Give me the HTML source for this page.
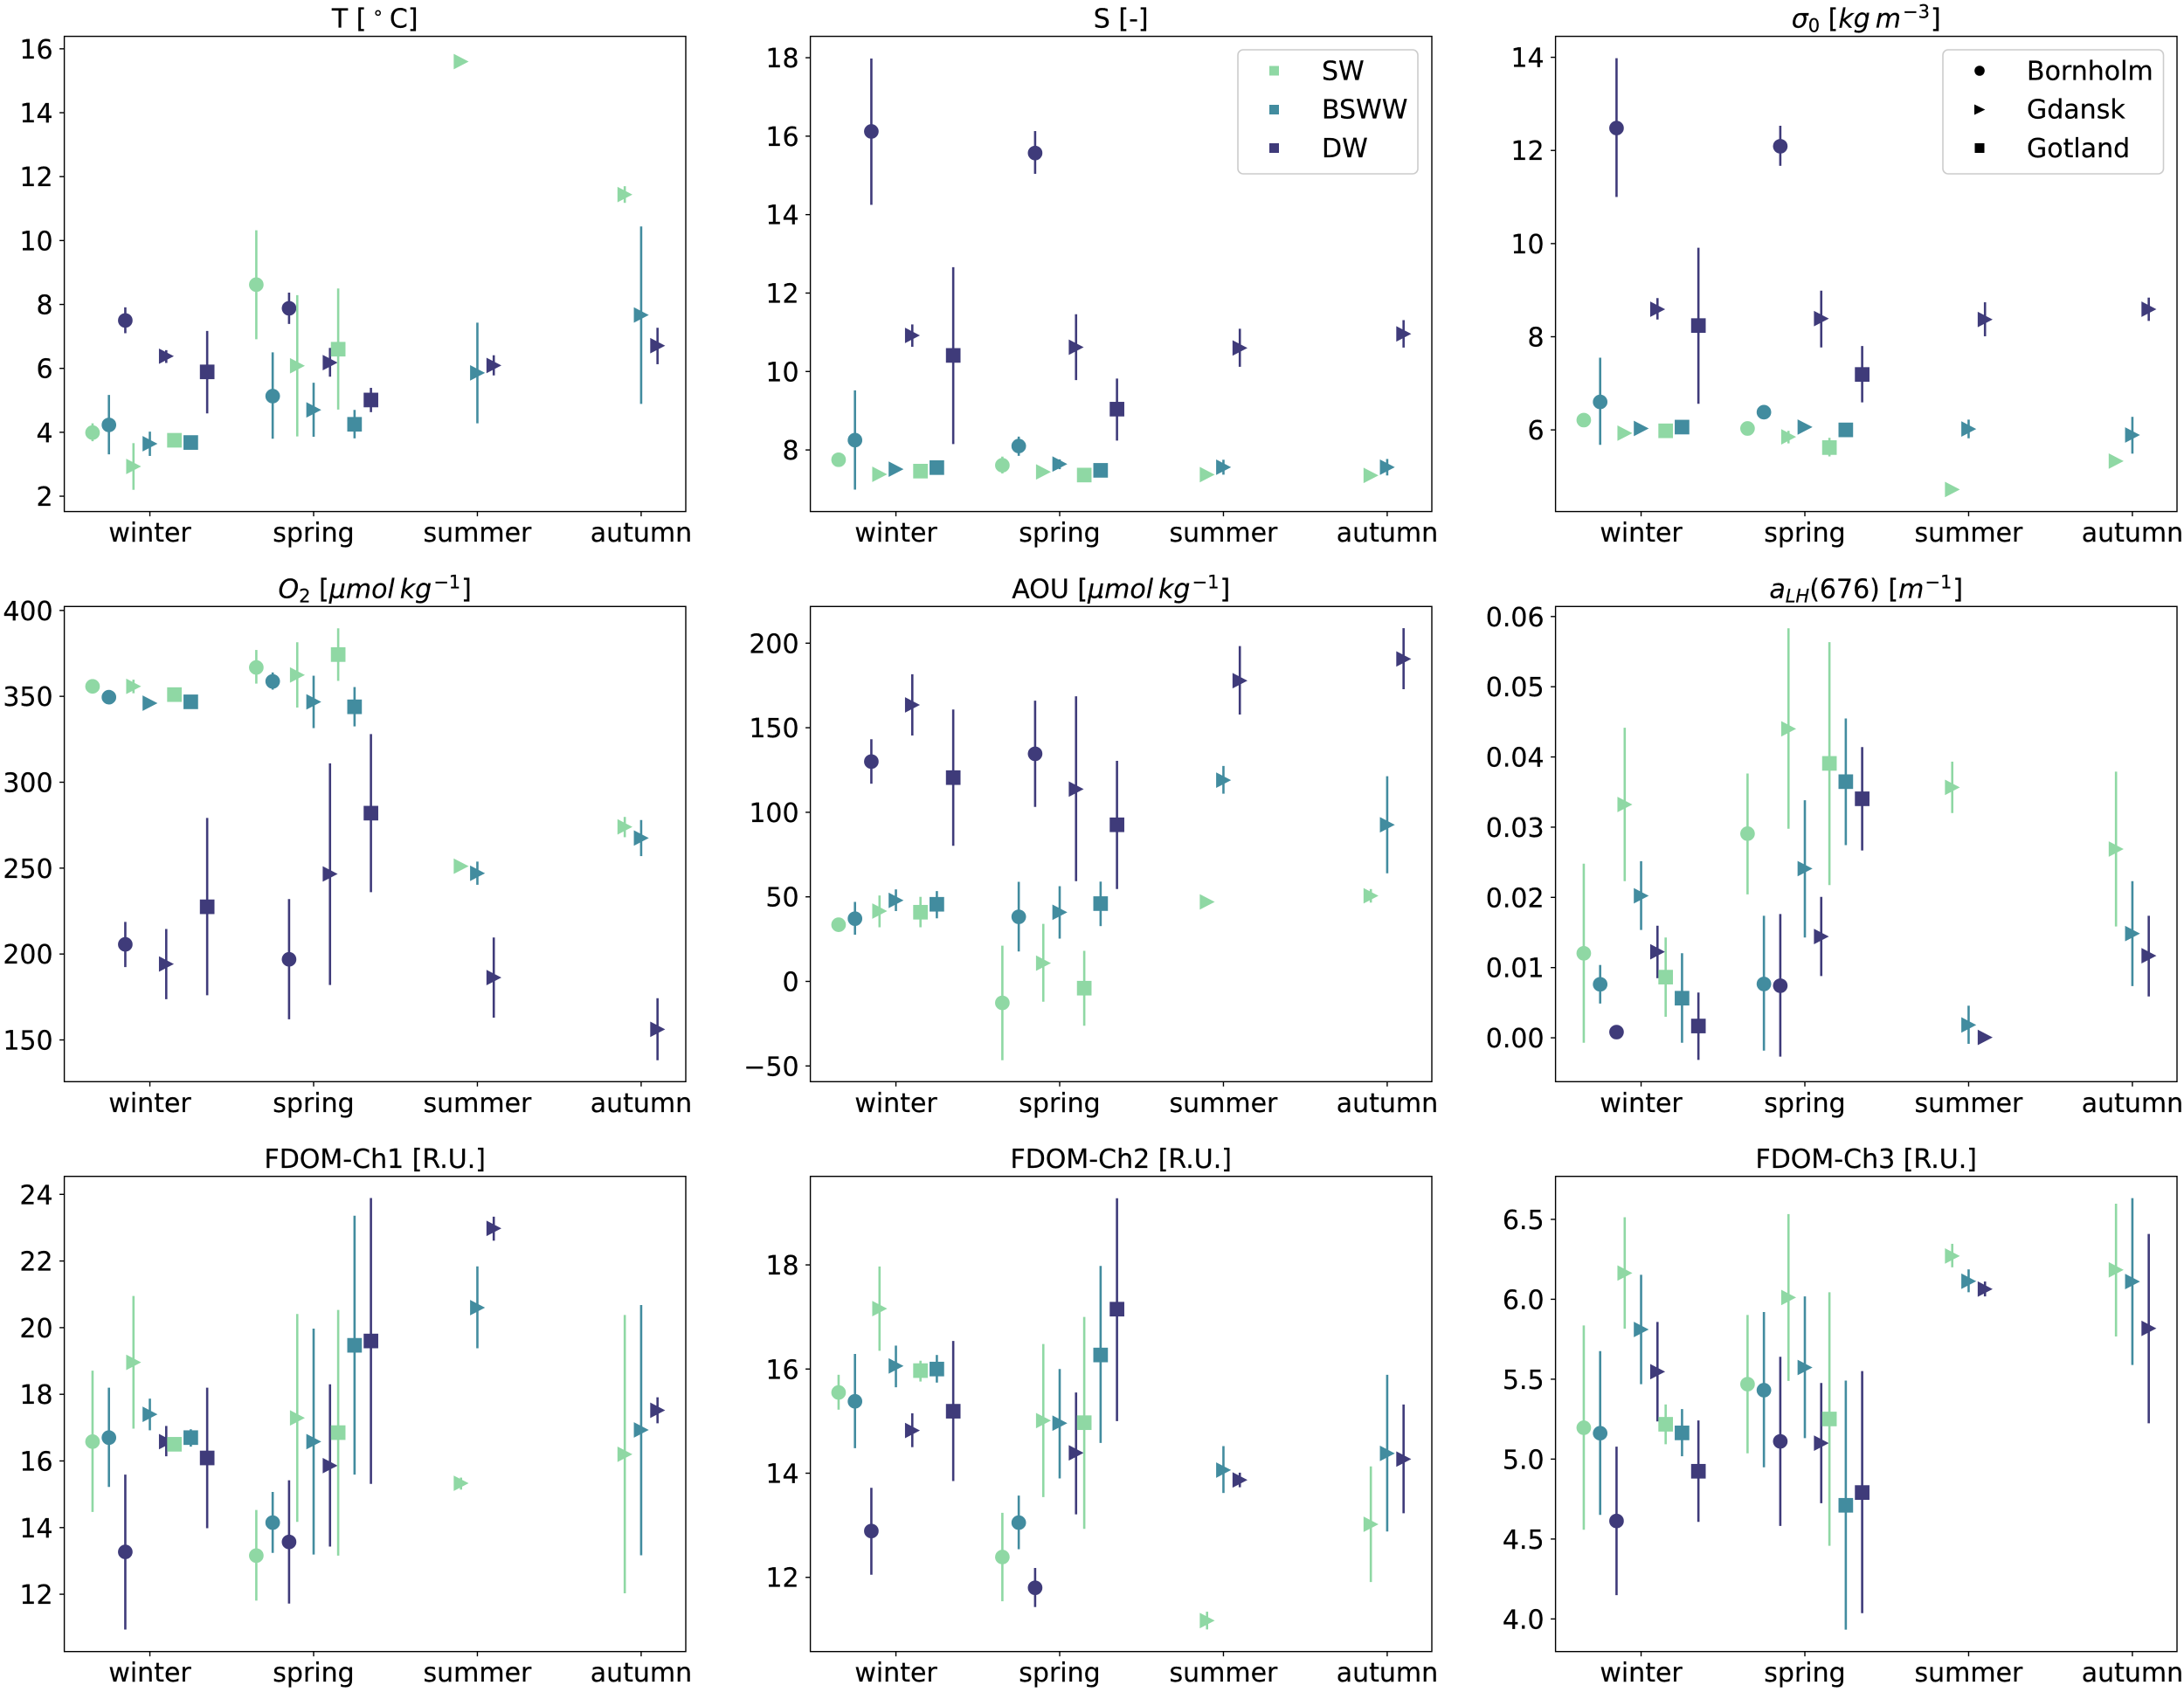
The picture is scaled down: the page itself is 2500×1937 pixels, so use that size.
<!DOCTYPE html>
<html lang="en">
<head>
<meta charset="utf-8">
<title>Seasonal water mass properties by location</title>
<style>
html,body{margin:0;padding:0;background:#fff;}
svg{display:block;}
text{font-family:"DejaVu Sans","Liberation Sans",sans-serif;fill:#000;stroke:#000;stroke-width:0.2px;white-space:pre;}
.title{font-size:30px;text-anchor:middle;}
.tick{font-size:30px;}
.legend-text{font-size:30px;}
.it{font-style:italic;}
</style>
</head>
<body>
<svg id="fig" xmlns="http://www.w3.org/2000/svg" width="2500" height="1937" viewBox="0 0 2500 1937">
  <rect x="0" y="0" width="2500" height="1937" fill="#fff"/>
  <g id="panels"></g>

  <text class="title" x="429.2" y="31.6">T [<tspan dy="-10" font-size="21"> ∘ </tspan><tspan dy="10">C]</tspan></text>
  <text class="title" x="1283.2" y="31.6">S [-]</text>
  <text class="title" x="2136.2" y="31.6"><tspan class="it">σ</tspan><tspan dy="5" font-size="21">0</tspan><tspan dy="-5"> [</tspan><tspan class="it">kg&#8201;m</tspan><tspan dy="-11" dx="2" font-size="21">−3</tspan><tspan dy="11" dx="1">]</tspan></text>

  <text class="title" x="429.2" y="684.3"><tspan class="it">O</tspan><tspan dy="5" font-size="21">2</tspan><tspan dy="-5"> [</tspan><tspan class="it">μmol&#8201;kg</tspan><tspan dy="-11" dx="2" font-size="21">−1</tspan><tspan dy="11" dx="1">]</tspan></text>
  <text class="title" x="1283.2" y="684.3">AOU [<tspan class="it">μmol&#8201;kg</tspan><tspan dy="-11" dx="2" font-size="21">−1</tspan><tspan dy="11" dx="1">]</tspan></text>
  <text class="title" x="2136.2" y="684.3"><tspan class="it">a</tspan><tspan dy="5" font-size="21" class="it">LH</tspan><tspan dy="-5">(676) [</tspan><tspan class="it">m</tspan><tspan dy="-11" dx="1" font-size="21">−1</tspan><tspan dy="11" dx="1">]</tspan></text>

  <text class="title" x="429.2" y="1337">FDOM-Ch1 [R.U.]</text>
  <text class="title" x="1283.2" y="1337">FDOM-Ch2 [R.U.]</text>
  <text class="title" x="2136.2" y="1337">FDOM-Ch3 [R.U.]</text>

  <g>
    <rect x="1417" y="57" width="206" height="142" rx="6" ry="6" fill="#fff" fill-opacity="0.8" stroke="#cccccc" stroke-width="1.6"/>
    <rect x="1453" y="75.5" width="11" height="11" fill="#8fd8a4"/>
    <text class="legend-text" x="1513" y="91.5">SW</text>
    <rect x="1453" y="120" width="11" height="11" fill="#428c9f"/>
    <text class="legend-text" x="1513" y="135.5">BSWW</text>
    <rect x="1453" y="164" width="11" height="11" fill="#3f3b7a"/>
    <text class="legend-text" x="1513" y="180">DW</text>
  </g>
  <g>
    <rect x="2224" y="57" width="252.5" height="142" rx="6" ry="6" fill="#fff" fill-opacity="0.8" stroke="#cccccc" stroke-width="1.6"/>
    <circle cx="2266" cy="81" r="5.8" fill="#000"/>
    <text class="legend-text" x="2320" y="91.5">Bornholm</text>
    <polygon points="2260,119.5 2272.4,125.5 2260,131.5" fill="#000"/>
    <text class="legend-text" x="2320" y="135.5">Gdansk</text>
    <rect x="2260.5" y="164" width="11" height="11" fill="#000"/>
    <text class="legend-text" x="2320" y="180">Gotland</text>
  </g>
</svg>

<script>
const seasons = ["winter","spring","summer","autumn"];
const seriesSeason = [0,0,0,0,0,0,0,0,0, 1,1,1,1,1,1,1,1,1, 2,2,2, 3,3,3];
const seriesLocation = ["Bornholm","Bornholm","Bornholm","Gdansk","Gdansk","Gdansk","Gotland","Gotland","Gotland",
                        "Bornholm","Bornholm","Bornholm","Gdansk","Gdansk","Gdansk","Gotland","Gotland","Gotland",
                        "Gdansk","Gdansk","Gdansk","Gdansk","Gdansk","Gdansk"];
const seriesWater = ["SW","BSWW","DW","SW","BSWW","DW","SW","BSWW","DW",
                     "SW","BSWW","DW","SW","BSWW","DW","SW","BSWW","DW",
                     "SW","BSWW","DW","SW","BSWW","DW"];

const tempMean = [3.99,4.23,7.5,2.93,3.64,6.38,3.75,3.68,5.89, 8.62,5.13,7.88,6.08,4.7,6.18,6.6,4.25,5.01, 15.6,5.86,6.09, 11.44,7.67,6.71];
const tempLow  = [3.72,3.31,7.1,2.2,3.26,6.17,3.65,3.58,4.59, 6.91,3.8,7.39,3.87,3.86,5.74,4.71,3.81,4.63, 15.55,4.28,5.78, 11.18,4.89,6.13];
const tempHigh = [4.28,5.17,7.91,3.66,4.02,6.57,3.85,3.78,7.17, 10.32,6.5,8.37,8.29,5.55,6.64,8.5,4.7,5.39, 15.65,7.43,6.41, 11.7,10.44,7.27];
const tempTicks = [2,4,6,8,10,12,14,16];

const salMean = [7.75,8.25,16.12,7.38,7.51,10.92,7.46,7.55,10.41, 7.61,8.1,15.57,7.44,7.64,10.62,7.36,7.48,9.04, 7.37,7.56,10.6, 7.35,7.56,10.96];
const salLow  = [7.65,6.99,14.25,7.33,7.46,10.63,7.41,7.47,8.15, 7.4,7.85,15.04,7.39,7.51,9.78,7.18,7.4,8.24, 7.33,7.37,10.12, 7.31,7.35,10.61];
const salHigh = [7.85,9.52,17.98,7.43,7.56,11.2,7.51,7.63,12.66, 7.83,8.34,16.13,7.49,7.76,11.46,7.54,7.56,9.82, 7.41,7.75,11.09, 7.39,7.77,11.31];
const salTicks = [8,10,12,14,16,18];

const sigmaMean = [6.21,6.6,12.48,5.93,6.03,8.59,5.98,6.06,8.24, 6.03,6.38,12.09,5.85,6.06,8.39,5.62,6.0,7.19, 4.72,6.02,8.37, 5.33,5.89,8.59];
const sigmaLow  = [6.18,5.68,11.0,5.9,6.0,8.37,5.95,6.01,6.56, 6.0,6.33,11.67,5.71,6.03,7.77,5.43,5.96,6.59, 4.7,5.82,8.01, 5.31,5.49,8.34];
const sigmaHigh = [6.24,7.55,13.98,5.96,6.06,8.83,6.01,6.11,9.91, 6.06,6.43,12.53,5.98,6.09,8.99,5.83,6.04,7.8, 4.74,6.22,8.74, 5.35,6.28,8.84];
const sigmaTicks = [6,8,10,12,14];

const oxyMean = [355.8,349.5,205.6,355.8,346,194.2,351,346.8,227.5, 366.8,358.7,196.9,362.4,346.8,246.6,374.3,343.9,282, 251.1,247,186.3, 274,267.5,156.2];
const oxyLow  = [354.8,348.5,192.4,351.8,345,173.7,346.8,345.3,176, 357.4,353.9,162,343.5,331.5,182,359,332.5,236, 250.6,240.3,163, 268,257,138.2];
const oxyHigh = [356.8,350.5,218.7,359.7,347,214.6,355,348.3,279.2, 377,363.9,232,381.5,362,311,389.6,355.4,328, 251.6,253.8,209.6, 279.8,278,174.3];
const oxyTicks = [150,200,250,300,350,400];

const aouMean = [33.5,37.1,130,41.6,47.9,163.5,40.9,45.6,120.5, -12.7,38.2,134.6,10.8,40.9,113.7,-4,46,92.6, 47,119,177.8, 50.6,92.6,190.7];
const aouLow  = [31.5,27.6,116.9,32,41.6,145.4,32,37.3,80.2, -46.6,17.7,103.2,-12,25.3,59.3,-26.2,32.7,54.6, 46.5,111,157.8, 46.6,63.9,172.8];
const aouHigh = [35.5,47,143.2,50.8,54.4,181.6,50,53.4,160.8, 21.1,58.9,166,34,56.3,168.6,18.1,59,130.4, 47.5,127.4,198.3, 54.6,121.3,208.9];
const aouTicks = [-50,0,50,100,150,200];

const alhMean = [0.01204,0.00762,0.00081,0.03323,0.02022,0.01225,0.00864,0.00564,0.00168, 0.02907,0.00767,0.00742,0.044,0.02409,0.01443,0.03908,0.03648,0.03404, 0.03567,0.00183,0.00005, 0.02688,0.01484,0.01169];
const alhLow  = [-0.0007,0.00488,0.00071,0.02231,0.01535,0.00849,0.003,-0.0007,-0.00315, 0.02043,-0.00183,-0.00269,0.02978,0.01428,0.00879,0.02175,0.02744,0.02668, 0.03201,-0.00086,-0.00005, 0.01585,0.00737,0.00589];
const alhHigh = [0.0248,0.01037,0.00091,0.04416,0.02515,0.01596,0.01428,0.01204,0.00645, 0.03765,0.01738,0.01763,0.05833,0.03384,0.02007,0.05635,0.04548,0.04141, 0.03933,0.00457,0.00015, 0.03791,0.02231,0.01738];
const alhTicks = [0,0.01,0.02,0.03,0.04,0.05,0.06];

const ch1Mean = [16.58,16.7,13.27,18.96,17.4,16.58,16.5,16.7,16.09, 13.16,14.15,13.57,17.29,16.58,15.86,16.85,19.47,19.6, 15.33,20.6,22.98, 16.2,16.93,17.52];
const ch1Low  = [14.47,15.22,10.94,16.97,16.92,16.14,16.38,16.43,13.98, 11.81,13.24,11.72,14.17,13.19,13.43,13.16,15.59,15.31, 15.14,19.38,22.61, 12.03,13.17,17.13];
const ch1High = [18.71,18.2,15.59,20.95,17.87,17.05,16.62,16.95,18.2, 14.53,15.07,15.42,20.41,19.97,18.3,20.53,23.36,23.89, 15.5,21.84,23.33, 20.38,20.68,17.91];
const ch1Ticks = [12,14,16,18,20,22,24];

const ch2Mean = [15.55,15.38,12.89,17.16,16.06,14.82,15.97,16,15.19, 12.39,13.05,11.8,15.01,14.96,14.39,14.97,16.27,17.15, 11.17,14.06,13.87, 13.02,14.38,14.27];
const ch2Low  = [15.22,14.48,12.05,16.35,15.65,14.5,15.76,15.74,13.85, 11.54,12.54,11.43,13.54,13.9,13.21,12.93,14.58,15.0, 11.0,13.62,13.73, 11.91,12.88,13.23];
const ch2High = [15.89,16.29,13.72,17.97,16.45,15.15,16.16,16.27,16.54, 13.24,13.57,12.18,16.48,16,15.55,17,17.98,19.28, 11.34,14.52,14.01, 14.13,15.89,15.32];
const ch2Ticks = [12,14,16,18];

const ch3Mean = [5.196,5.162,4.613,6.164,5.811,5.547,5.218,5.164,4.924, 5.469,5.431,5.111,6.011,5.573,5.1,5.251,4.711,4.791, 6.271,6.113,6.064, 6.184,6.111,5.818];
const ch3Low  = [4.558,4.651,4.149,5.816,5.469,5.236,5.093,5.018,4.607, 5.036,4.949,4.582,5.489,5.131,4.724,4.458,3.933,4.036, 6.2,6.044,6.018, 5.767,5.589,5.224];
const ch3High = [5.836,5.676,5.078,6.513,6.153,5.858,5.342,5.313,5.242, 5.902,5.92,5.64,6.533,6.018,5.476,6.044,5.491,5.551, 6.347,6.187,6.111, 6.598,6.633,6.409];
const ch3Ticks = [4,4.5,5,5.5,6,6.5];

const panels = [
  {id:"temperature", mean:tempMean,  low:tempLow,  high:tempHigh,  ticks:tempTicks,  ymin:1.52,    ymax:16.39,   decimals:0, col:0, row:0},
  {id:"salinity",    mean:salMean,   low:salLow,   high:salHigh,   ticks:salTicks,   ymin:6.43,    ymax:18.545,  decimals:0, col:1, row:0},
  {id:"sigma",       mean:sigmaMean, low:sigmaLow, high:sigmaHigh, ticks:sigmaTicks, ymin:4.247,   ymax:14.45,   decimals:0, col:2, row:0},
  {id:"oxygen",      mean:oxyMean,   low:oxyLow,   high:oxyHigh,   ticks:oxyTicks,   ymin:125.7,   ymax:402.3,   decimals:0, col:0, row:1},
  {id:"aou",         mean:aouMean,   low:aouLow,   high:aouHigh,   ticks:aouTicks,   ymin:-59.3,   ymax:221.7,   decimals:0, col:1, row:1},
  {id:"alh",         mean:alhMean,   low:alhLow,   high:alhHigh,   ticks:alhTicks,   ymin:-0.00625,ymax:0.06143, decimals:2, col:2, row:1},
  {id:"fdom-ch1",    mean:ch1Mean,   low:ch1Low,   high:ch1High,   ticks:ch1Ticks,   ymin:10.28,   ymax:24.54,   decimals:0, col:0, row:2},
  {id:"fdom-ch2",    mean:ch2Mean,   low:ch2Low,   high:ch2High,   ticks:ch2Ticks,   ymin:10.575,  ymax:19.7,    decimals:0, col:1, row:2},
  {id:"fdom-ch3",    mean:ch3Mean,   low:ch3Low,   high:ch3High,   ticks:ch3Ticks,   ymin:3.796,   ymax:6.769,   decimals:1, col:2, row:2}
];

const colLeft = [73.6, 927.6, 1780.6];
const rowTop = [41.6, 694.3, 1346.7];
const AXW = 711.4, AXH = 544;
const XMIN = -0.5225, XMAX = 3.2725;
const locOffset = {Bornholm:-0.25, Gdansk:0, Gotland:0.25};
const waterOffset = {SW:-0.1, BSWW:0, DW:0.1};
const waterColor = {SW:"#8fd8a4", BSWW:"#428c9f", DW:"#3f3b7a"};
const NS = "http://www.w3.org/2000/svg";
const root = document.getElementById("panels");

function mk(tag, parent) {
  const el = document.createElementNS(NS, tag);
  parent.appendChild(el);
  return el;
}

panels.forEach(function (p) {
  const left = colLeft[p.col], top = rowTop[p.row];
  const xScale = function (v) { return left + (v - XMIN) / (XMAX - XMIN) * AXW; };
  const yScale = function (v) { return top + AXH - (v - p.ymin) / (p.ymax - p.ymin) * AXH; };

  const g = mk("g", root);
  
  

  p.ticks.forEach(function (t) {
    const y = yScale(t);
    const tick = mk("line", g);
    tick.setAttribute("x1", left - 5.5);
    tick.setAttribute("x2", left);
    tick.setAttribute("y1", y);
    tick.setAttribute("y2", y);
    tick.setAttribute("stroke", "#000");
    tick.setAttribute("stroke-width", "1.4");
    
    
    const lab = mk("text", g);
    lab.setAttribute("class", "tick");
    lab.setAttribute("x", left - 13);
    lab.setAttribute("y", y + 11);
    lab.setAttribute("text-anchor", "end");
    lab.textContent = t.toFixed(p.decimals).replace("-", "\u2212");
    
    
  });

  seasons.forEach(function (s, i) {
    const x = xScale(i);
    const tick = mk("line", g);
    tick.setAttribute("x1", x);
    tick.setAttribute("x2", x);
    tick.setAttribute("y1", top + AXH);
    tick.setAttribute("y2", top + AXH + 5.5);
    tick.setAttribute("stroke", "#000");
    tick.setAttribute("stroke-width", "1.4");
    
    
    const lab = mk("text", g);
    lab.setAttribute("class", "tick");
    lab.setAttribute("x", x);
    lab.setAttribute("y", top + AXH + 34.5);
    lab.setAttribute("text-anchor", "middle");
    lab.textContent = s;
    
    
  });

  p.mean.forEach(function (m, i) {
    const loc = seriesLocation[i], water = seriesWater[i];
    const color = waterColor[water];
    const x = xScale(seriesSeason[i] + locOffset[loc] + waterOffset[water]);
    const y = yScale(m);

    const bar = mk("line", g);
    bar.setAttribute("x1", x);
    bar.setAttribute("x2", x);
    bar.setAttribute("y1", yScale(p.low[i]));
    bar.setAttribute("y2", yScale(p.high[i]));
    bar.setAttribute("stroke", color);
    bar.setAttribute("stroke-width", "2.6");
    
    

    let mark;
    if (loc === "Bornholm") {
      mark = mk("circle", g);
      mark.setAttribute("cx", x);
      mark.setAttribute("cy", y);
      mark.setAttribute("r", 8);
    } else if (loc === "Gdansk") {
      mark = mk("polygon", g);
      mark.setAttribute("points", (x - 8) + "," + (y - 8.3) + " " + (x + 8) + "," + y + " " + (x - 8) + "," + (y + 8.3));
    } else {
      mark = mk("rect", g);
      mark.setAttribute("x", x - 8);
      mark.setAttribute("y", y - 8);
      mark.setAttribute("width", 16);
      mark.setAttribute("height", 16);
    }
    mark.setAttribute("fill", color);
    mark.setAttribute("stroke", color);
    mark.setAttribute("stroke-width", "0.7");
    
    
  });

  const frame = mk("rect", g);
  frame.setAttribute("x", left);
  frame.setAttribute("y", top);
  frame.setAttribute("width", AXW);
  frame.setAttribute("height", AXH);
  frame.setAttribute("fill", "none");
  frame.setAttribute("stroke", "#000");
  frame.setAttribute("stroke-width", "1.4");
  
  
});
</script>
</body>
</html>
